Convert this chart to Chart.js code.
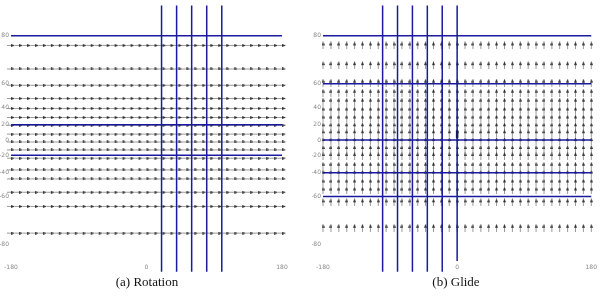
<!DOCTYPE html>
<html>
<head>
<meta charset="utf-8">
<script src="https://cdn.jsdelivr.net/npm/chart.js@4.4.1/dist/chart.umd.min.js"></script>
<style>
  body { margin: 0; background: #fff; width: 600px; height: 296px; position: relative; overflow: hidden; }
  canvas { position: absolute; top: 0; }
  .cap { position: absolute; top: 274px; width: 300px; text-align: center; font: 13px "Liberation Serif", serif; color: #111; }
</style>
</head>
<body>
<canvas id="rot" width="300" height="278" style="left:0"></canvas>
<canvas id="glide" width="300" height="278" style="left:300px"></canvas>
<div class="cap" style="left:-3px">(a) Rotation</div>
<div class="cap" style="left:306px">(b) Glide</div>
<script>
// grid of the vector field (degrees)
var lons = [-180, -169.4, -158.8, -148.2, -137.6, -127.1, -116.5, -105.9, -95.3, -84.7, -74.1, -63.5,
  -52.9, -42.4, -31.8, -21.2, -10.6, 0, 10.6, 21.2, 31.8, 42.4, 52.9, 63.5, 74.1, 84.7, 95.3, 105.9,
  116.5, 127.1, 137.6, 148.2, 158.8, 169.4, 180];
var rotLats = [77.5, 68.5, 59, 48.5, 39, 29, 19.5, 8, -2.5, -13, -23.5, -37, -46, -57, -66, -77];
var glideLats = [77.5, 70.3, 60.7, 53.4, 45.7, 36.8, 27.8, 18.2, 9.2, -1.3, -11.8, -20.7, -32.4,
  -40.8, -49.2, -55.7, -63.7, -75.3];

// blue lines: [lon, bottom lat] for meridians, lat for parallels
var rotMeridians = [[20, -84.7], [40, -84.7], [60, -84.7], [80, -84.7], [100, -84.7]];
var rotParallels = [80, 20, -20];
var glideMeridians = [[-100, -84.7], [-80, -84.7], [-60, -84.7], [-40, -84.7], [-20, -84.7], [0, -83.2]];
var glideParallels = [80, 60, 0, -40, -60];
var lineTop = 85.05;

var xTicks = [-180, 0, 180];
var yTicks = [-80, -60, -40, -20, 0, 20, 40, 60, 80];

function merc(lat) {
  var r = Math.max(-85.05, Math.min(85.05, lat)) * Math.PI / 180;
  return Math.log(Math.tan(Math.PI / 4 + r / 2));
}

// mercator latitude axis
class MercScale extends Chart.LinearScale {
  getPixelForValue(v) {
    var a = merc(this.min), b = merc(this.max);
    return this.getPixelForDecimal((merc(v) - a) / (b - a));
  }
  getValueForPixel(p) {
    var a = merc(this.min), b = merc(this.max);
    var m = a + this.getDecimalForPixel(p) * (b - a);
    return (2 * Math.atan(Math.exp(m)) - Math.PI / 2) * 180 / Math.PI;
  }
}
MercScale.id = 'merc';
MercScale.defaults = Chart.LinearScale.defaults;
Chart.register(MercScale);

function arrowImage(dir) {
  var c = document.createElement('canvas');
  var ctx;
  if (dir == 'right') {
    c.width = 8; c.height = 3;
    ctx = c.getContext('2d');
    ctx.fillStyle = '#9a9a9a';
    ctx.fillRect(0, 1, 5, 1);
    ctx.fillStyle = '#333';
    ctx.beginPath(); ctx.moveTo(4, 0); ctx.lineTo(8, 1.5); ctx.lineTo(4, 3); ctx.fill();
  } else {
    c.width = 3; c.height = 8;
    ctx = c.getContext('2d');
    ctx.fillStyle = '#9a9a9a';
    ctx.fillRect(1, 3, 1, 5);
    ctx.fillStyle = '#333';
    ctx.beginPath(); ctx.moveTo(0, 4); ctx.lineTo(1.5, 0); ctx.lineTo(3, 4); ctx.fill();
  }
  return c;
}

function lineSet(pts, color, width) {
  return { type: 'line', data: pts, showLine: true, borderColor: color, borderWidth: width,
    pointRadius: 0, clip: false, fill: false };
}

function buildChart(id, lats, img, meridians, parallels, extra, pad) {
  var datasets = [];
  meridians.forEach(function(m) {
    datasets.push(lineSet([{x: m[0], y: m[1]}, {x: m[0], y: lineTop}], '#1a1a9e', 1.5));
  });
  parallels.forEach(function(lat) {
    datasets.push(lineSet([{x: -180, y: lat}, {x: 180, y: lat}], '#1a1a9e', 1.5));
  });
  extra.forEach(function(d) { datasets.push(d); });
  var field = [];
  lats.forEach(function(lat) {
    lons.forEach(function(lon) { field.push({x: lon, y: lat}); });
  });
  datasets.push({ type: 'scatter', data: field, pointStyle: img, clip: false });

  return new Chart(document.getElementById(id), {
    type: 'scatter',
    data: { datasets: datasets },
    options: {
      responsive: false,
      animation: false,
      layout: { padding: pad, autoPadding: false },
      plugins: { legend: { display: false }, tooltip: { enabled: false } },
      scales: {
        x: {
          type: 'linear', min: -180, max: 180,
          grid: { display: false, drawTicks: false }, border: { display: false },
          ticks: { font: { size: 6, family: 'DejaVu Sans' }, color: '#888', padding: 3, maxRotation: 0, autoSkip: false },
          afterBuildTicks: function(s) { s.ticks = xTicks.map(function(v) { return {value: v}; }); },
          afterFit: function(s) { s.height = 17; }
        },
        y: {
          type: 'merc', min: -83.2, max: 85.05,
          grid: { display: false, drawTicks: false }, border: { display: false },
          ticks: { font: { size: 6, family: 'DejaVu Sans' }, color: '#888', padding: 2, autoSkip: false },
          afterBuildTicks: function(s) { s.ticks = yTicks.map(function(v) { return {value: v}; }); },
          afterFit: function(s) { s.width = 11; }
        }
      }
    }
  });
}

buildChart('rot', rotLats, arrowImage('right'), rotMeridians, rotParallels, [],
  { left: 0, right: 18, top: 2, bottom: 0 });

// small bold mark on the 0 meridian
var glideMark = [lineSet([{x: 0, y: 2.6}, {x: 0, y: 13}], '#111', 2.5)];
buildChart('glide', glideLats, arrowImage('up'), glideMeridians, glideParallels, glideMark,
  { left: 12, right: 5, top: 2, bottom: 0 });
</script>
</body>
</html>
